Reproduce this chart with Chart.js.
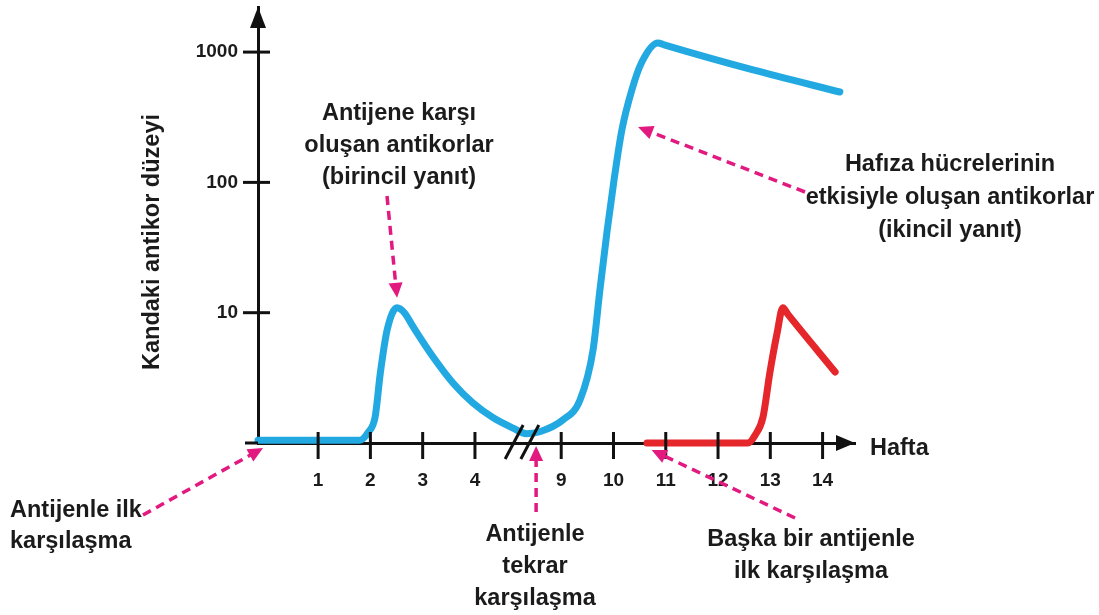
<!DOCTYPE html>
<html lang="tr">
<head>
<meta charset="utf-8">
<title>Kandaki antikor düzeyi</title>
<script src="https://cdn.jsdelivr.net/npm/chart.js@4.4.1/dist/chart.umd.min.js"></script>
<style>
  html, body { margin: 0; padding: 0; background: #fff; }
  #wrap { width: 1099px; height: 615px; position: relative; }
</style>
</head>
<body>
<div id="wrap"><canvas id="chart"></canvas></div>
<script>
// x: position on the (broken) week axis, labels below; y: antibody level (log)
const xTickPos = [1, 2, 3, 4, 5.65, 6.65, 7.65, 8.65, 9.65, 10.65];
const xTickLabels = ['1', '2', '3', '4', '9', '10', '11', '12', '13', '14'];
const yTicks = [10, 100, 1000];

// first antigen: primary response, then secondary response
const antigenAX = [-0.15, 1.80, 1.96, 2.09, 2.19, 2.32, 2.51, 2.65, 2.82, 3.20, 3.58, 3.96, 4.35, 4.73, 4.98,
                   5.24, 5.68, 6.01, 6.26, 6.39, 6.53, 6.66, 6.81, 7.00, 7.19, 7.50, 7.62, 9.32, 10.98];
const antigenAY = [1.05, 1.05, 1.21, 1.58, 3.44, 7.36, 10.9, 10.0, 7.77, 4.57, 2.89, 2.03, 1.56, 1.30, 1.18,
                   1.22, 1.50, 2.14, 5.2, 14.9, 43, 104, 252, 510, 835, 1175, 1135, 729, 494];

// another antigen met for the first time
const antigenBX = [7.29, 9.22, 9.36, 9.51, 9.64, 9.78, 9.89, 9.98, 10.89];
const antigenBY = [1, 1, 1.15, 1.58, 3.44, 6.98, 10.9, 9.8, 3.51];

const FONT = "'Liberation Sans', Arial, Helvetica, sans-serif";
const INK = '#1b1b1b';
const PINK = '#e2197f';

Chart.defaults.font.family = FONT;

function toPoints(xs, ys) {
  return xs.map((v, i) => ({ x: v, y: ys[i] }));
}

function dashedArrow(ctx, x1, y1, x2, y2) {
  const ang = Math.atan2(y2 - y1, x2 - x1);
  const head = 15;
  ctx.save();
  ctx.strokeStyle = PINK;
  ctx.fillStyle = PINK;
  ctx.lineWidth = 3.5;
  ctx.setLineDash([9, 6]);
  ctx.beginPath();
  ctx.moveTo(x1, y1);
  ctx.lineTo(x2 - Math.cos(ang) * (head - 2), y2 - Math.sin(ang) * (head - 2));
  ctx.stroke();
  ctx.setLineDash([]);
  ctx.beginPath();
  ctx.moveTo(x2, y2);
  ctx.lineTo(x2 - Math.cos(ang) * head - Math.sin(ang) * 7, y2 - Math.sin(ang) * head + Math.cos(ang) * 7);
  ctx.lineTo(x2 - Math.cos(ang) * head + Math.sin(ang) * 7, y2 - Math.sin(ang) * head - Math.cos(ang) * 7);
  ctx.closePath();
  ctx.fill();
  ctx.restore();
}

function textLines(ctx, lines, x, y0, step, align) {
  ctx.textAlign = align;
  lines.forEach((t, i) => ctx.fillText(t, x, y0 + i * step));
}

const decor = {
  id: 'decor',
  afterDatasetsDraw(chart) {
    const { ctx, chartArea: a, scales: { x, y } } = chart;
    ctx.save();
    ctx.strokeStyle = '#111';
    ctx.fillStyle = '#111';
    ctx.lineWidth = 3;
    ctx.lineCap = 'butt';

    // small overhang of the x axis left of the origin
    ctx.beginPath();
    ctx.moveTo(a.left - 13, a.bottom);
    ctx.lineTo(a.left, a.bottom);
    ctx.stroke();

    // tick marks crossing the axes
    xTickPos.forEach(v => {
      const px = x.getPixelForValue(v);
      ctx.beginPath();
      ctx.moveTo(px, a.bottom - 11);
      ctx.lineTo(px, a.bottom + 16);
      ctx.stroke();
    });
    yTicks.forEach(v => {
      const py = y.getPixelForValue(v);
      ctx.beginPath();
      ctx.moveTo(a.left - 15, py);
      ctx.lineTo(a.left + 12, py);
      ctx.stroke();
    });

    // axis break "//"
    [4.75, 5.05].forEach(v => {
      const px = x.getPixelForValue(v);
      ctx.beginPath();
      ctx.moveTo(px - 9, a.bottom + 16);
      ctx.lineTo(px + 9, a.bottom - 18);
      ctx.stroke();
    });

    // arrow heads
    ctx.beginPath();
    ctx.moveTo(a.left, a.top);
    ctx.lineTo(a.left - 8, a.top + 21);
    ctx.lineTo(a.left + 8, a.top + 21);
    ctx.closePath();
    ctx.fill();
    ctx.beginPath();
    ctx.moveTo(a.right, a.bottom);
    ctx.lineTo(a.right - 19, a.bottom - 8);
    ctx.lineTo(a.right - 19, a.bottom + 8);
    ctx.closePath();
    ctx.fill();
    ctx.restore();
  },
  afterDraw(chart) {
    const { ctx, chartArea: a, scales: { x, y } } = chart;
    ctx.save();

    // pointer arrows
    dashedArrow(ctx, 143, 515, x.getPixelForValue(-0.15) + 5, a.bottom + 5);
    dashedArrow(ctx, 387, 196, x.getPixelForValue(2.51), y.getPixelForValue(10.9) - 10);
    dashedArrow(ctx, 805, 192, x.getPixelForValue(7.12), y.getPixelForValue(266));
    dashedArrow(ctx, x.getPixelForValue(5.17), 512, x.getPixelForValue(5.17), a.bottom + 3);
    dashedArrow(ctx, 795, 518, x.getPixelForValue(7.38), a.bottom + 7);

    ctx.fillStyle = INK;
    ctx.font = `bold 23.5px ${FONT}`;
    ctx.textBaseline = 'alphabetic';
    textLines(ctx, ['Antijene karşı', 'oluşan antikorlar', '(birincil yanıt)'], 399, 120, 32, 'center');
    textLines(ctx, ['Hafıza hücrelerinin', 'etkisiyle oluşan antikorlar', '(ikincil yanıt)'], 950, 171, 33, 'center');
    textLines(ctx, ['Antijenle ilk', 'karşılaşma'], 10, 517, 31, 'left');
    textLines(ctx, ['Antijenle', 'tekrar', 'karşılaşma'], 535, 541, 32, 'center');
    textLines(ctx, ['Başka bir antijenle', 'ilk karşılaşma'], 811, 546, 32, 'center');
    textLines(ctx, ['Hafta'], 870, 455, 0, 'left');

    // y axis title
    ctx.translate(153, 242);
    ctx.rotate(-Math.PI / 2);
    ctx.textAlign = 'center';
    ctx.textBaseline = 'middle';
    ctx.fillText('Kandaki antikor düzeyi', 0, 0);
    ctx.restore();
  }
};

new Chart(document.getElementById('chart'), {
  type: 'line',
  data: {
    datasets: [
      {
        label: 'Birinci antijen',
        data: toPoints(antigenAX, antigenAY),
        borderColor: '#23a9e1',
        borderWidth: 7,
        pointRadius: 0,
        cubicInterpolationMode: 'monotone',
        borderCapStyle: 'round',
        borderJoinStyle: 'round',
        fill: false,
        clip: false
      },
      {
        label: 'Başka bir antijen',
        data: toPoints(antigenBX, antigenBY),
        borderColor: '#e5262b',
        borderWidth: 7,
        pointRadius: 0,
        cubicInterpolationMode: 'monotone',
        borderCapStyle: 'round',
        borderJoinStyle: 'round',
        fill: false,
        clip: false
      }
    ]
  },
  options: {
    responsive: true,
    maintainAspectRatio: false,
    animation: false,
    layout: { padding: { left: 0, top: 7, right: 244, bottom: 0 } },
    plugins: {
      legend: { display: false },
      tooltip: { enabled: false }
    },
    scales: {
      x: {
        type: 'linear',
        min: -0.15,
        max: 11.27,
        grid: { display: false, drawTicks: false },
        border: { display: true, color: '#111', width: 3 },
        afterBuildTicks: s => { s.ticks = xTickPos.map(v => ({ value: v })); },
        afterFit: s => { s.height = 172; s.paddingLeft = 0; s.paddingRight = 0; },
        ticks: {
          autoSkip: false,
          maxRotation: 0,
          padding: 26,
          color: INK,
          font: { size: 19, weight: 'bold' },
          callback: (v, i) => xTickLabels[i]
        }
      },
      y: {
        type: 'logarithmic',
        min: 1,
        max: 2218,
        grid: { display: false, drawTicks: false },
        border: { display: true, color: '#111', width: 3 },
        afterBuildTicks: s => { s.ticks = yTicks.map(v => ({ value: v })); },
        afterFit: s => { s.width = 258; s.paddingTop = 0; s.paddingBottom = 0; },
        ticks: {
          autoSkip: false,
          padding: 20,
          color: INK,
          font: { size: 19, weight: 'bold' },
          callback: v => String(v)
        }
      }
    }
  },
  plugins: [decor]
});
</script>
</body>
</html>
